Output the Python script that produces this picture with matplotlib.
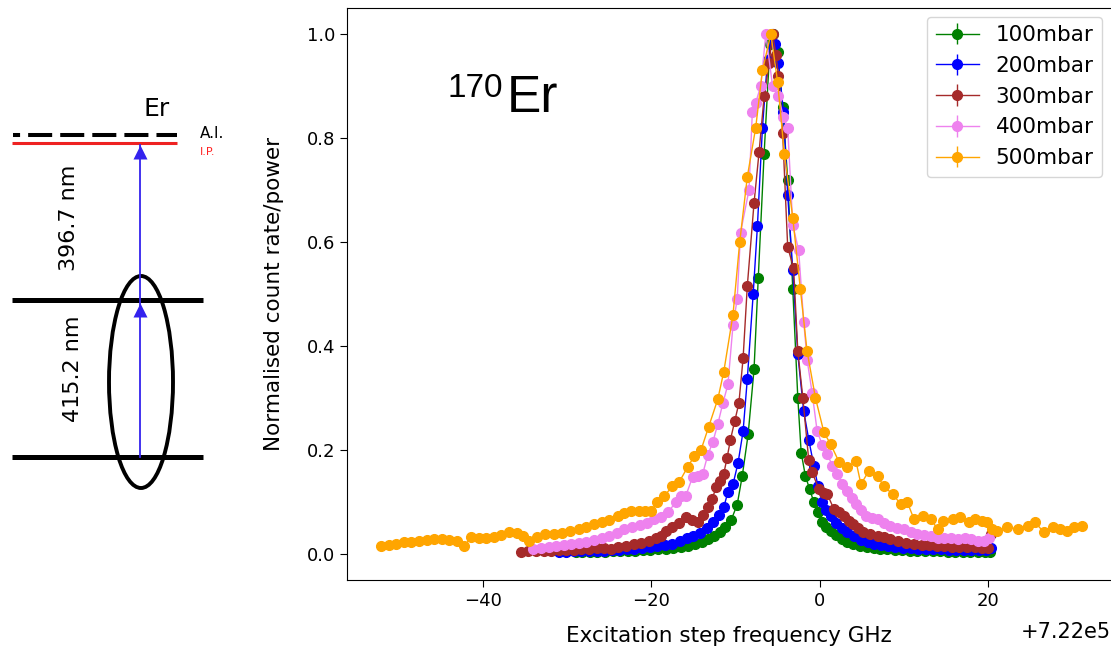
import matplotlib

matplotlib.use("Agg")
import matplotlib.pyplot as plt
import numpy as np
from matplotlib.patches import Ellipse

# frequency offset shown as +7.22e5 on the axis
OFFSET = 7.22e5
ERR = 0.003

x100 = [-29.0, -28.2, -27.3, -26.4, -25.5, -24.6, -23.7, -22.8, -21.9, -21.0,
        -20.1, -19.2, -18.3, -17.4, -16.5, -15.6, -14.8, -14.0, -13.3, -12.6,
        -11.9, -11.2, -10.5, -9.8, -9.2, -8.5, -7.8, -7.3, -6.6, -5.9,
        -5.5, -5.0, -4.4, -3.8, -3.2, -2.6, -2.2, -1.7, -1.2, -0.7,
        -0.2, 0.3, 0.8, 1.3, 1.9, 2.6, 3.3, 4.0, 4.8, 5.6,
        6.4, 7.2, 8.0, 8.9, 9.8, 10.7, 11.6, 12.5, 13.4, 14.3,
        15.2, 16.1, 17.0, 17.9, 18.8, 19.6, 20.2]
y100 = [0.003, 0.003, 0.004, 0.004, 0.004, 0.005, 0.005, 0.006, 0.006, 0.007,
        0.008, 0.009, 0.010, 0.012, 0.014, 0.016, 0.019, 0.023, 0.028, 0.034,
        0.042, 0.052, 0.066, 0.095, 0.150, 0.230, 0.355, 0.530, 0.770, 0.980,
        1.000, 0.965, 0.860, 0.720, 0.510, 0.300, 0.195, 0.150, 0.125, 0.100,
        0.080, 0.062, 0.052, 0.045, 0.036, 0.029, 0.023, 0.019, 0.016, 0.013,
        0.011, 0.010, 0.009, 0.008, 0.007, 0.006, 0.006, 0.005, 0.005, 0.005,
        0.004, 0.004, 0.004, 0.004, 0.004, 0.004, 0.004]

x200 = [-31.0, -30.1, -29.2, -28.3, -27.4, -26.5, -25.6, -24.7, -23.8, -22.9,
        -22.0, -21.1, -20.2, -19.3, -18.4, -17.5, -16.6, -15.8, -15.0, -14.2,
        -13.4, -12.7, -12.0, -11.4, -10.9, -10.3, -9.7, -9.1, -8.6, -7.9,
        -7.4, -6.8, -6.2, -5.7, -5.3, -4.9, -4.3, -3.8, -3.2, -2.6,
        -1.9, -1.3, -0.7, -0.2, 0.3, 0.8, 1.3, 1.9, 2.6, 3.3,
        4.1, 4.9, 5.7, 6.5, 7.3, 8.1, 9.0, 9.9, 10.8, 11.7,
        12.6, 13.5, 14.4, 15.3, 16.2, 17.1, 18.0, 18.9, 19.7, 20.3]
y200 = [0.004, 0.004, 0.005, 0.005, 0.005, 0.006, 0.006, 0.007, 0.008, 0.009,
        0.010, 0.011, 0.013, 0.015, 0.017, 0.020, 0.025, 0.030, 0.035, 0.040,
        0.050, 0.061, 0.075, 0.090, 0.119, 0.134, 0.175, 0.236, 0.336, 0.500,
        0.630, 0.820, 0.950, 1.000, 0.980, 0.944, 0.850, 0.690, 0.547, 0.384,
        0.275, 0.220, 0.170, 0.130, 0.100, 0.085, 0.073, 0.060, 0.050, 0.042,
        0.034, 0.027, 0.023, 0.020, 0.017, 0.015, 0.013, 0.012, 0.011, 0.010,
        0.010, 0.009, 0.009, 0.008, 0.008, 0.008, 0.008, 0.008, 0.008, 0.012]

x300 = [-35.5, -34.6, -33.7, -32.8, -31.9, -31.0, -30.1, -29.2, -28.3, -27.4,
        -26.5, -25.6, -24.8, -23.9, -23.0, -22.1, -21.2, -20.3, -19.5, -18.9,
        -18.2, -17.5, -16.7, -15.9, -15.2, -14.5, -13.9, -13.3, -12.8, -12.3,
        -11.9, -11.4, -11.0, -10.6, -10.1, -9.6, -9.1, -8.6, -7.8, -7.2,
        -6.6, -6.0, -5.6, -5.2, -4.9, -4.4, -3.8, -3.1, -2.6, -2.0,
        -1.3, -0.9, -0.1, 0.5, 0.9, 1.7, 2.3, 2.9, 3.5, 4.0,
        4.6, 5.2, 6.0, 6.9, 7.6, 8.4, 9.3, 10.2, 11.2, 12.1,
        13.0, 13.9, 14.8, 15.7, 16.6, 17.5, 18.4, 19.3, 20.0, 20.3]
y300 = [0.004, 0.005, 0.005, 0.006, 0.006, 0.007, 0.008, 0.008, 0.009, 0.010,
        0.011, 0.012, 0.010, 0.013, 0.016, 0.019, 0.021, 0.025, 0.030, 0.035,
        0.045, 0.052, 0.060, 0.071, 0.065, 0.061, 0.075, 0.090, 0.105, 0.128,
        0.140, 0.154, 0.185, 0.220, 0.255, 0.290, 0.376, 0.515, 0.675, 0.773,
        0.880, 0.944, 1.000, 0.960, 0.920, 0.810, 0.590, 0.550, 0.390, 0.300,
        0.180, 0.157, 0.125, 0.118, 0.115, 0.086, 0.080, 0.073, 0.063, 0.057,
        0.050, 0.042, 0.038, 0.035, 0.032, 0.029, 0.025, 0.022, 0.019, 0.018,
        0.017, 0.016, 0.015, 0.014, 0.014, 0.013, 0.013, 0.012, 0.012, 0.038]

x400 = [-34.0, -33.1, -32.2, -31.3, -30.4, -29.5, -28.6, -27.7, -26.8, -25.9,
        -25.0, -24.1, -23.2, -22.3, -21.4, -20.5, -19.7, -18.9, -18.0, -17.1,
        -16.5, -15.9, -15.1, -14.5, -13.9, -13.3, -12.7, -12.1, -11.5, -10.9,
        -10.3, -9.8, -9.4, -8.4, -8.0, -7.6, -7.0, -6.4, -5.6, -4.9,
        -4.3, -3.8, -3.2, -2.5, -1.9, -1.5, -0.9, -0.3, 0.3, 0.9,
        1.5, 2.1, 2.7, 3.3, 3.8, 4.3, 4.9, 5.5, 6.2, 6.9,
        7.6, 8.4, 9.2, 10.0, 10.8, 11.6, 12.4, 13.2, 14.0, 14.8,
        15.6, 16.4, 17.2, 18.0, 18.8, 19.5, 20.1]
y400 = [0.010, 0.012, 0.013, 0.015, 0.018, 0.019, 0.021, 0.024, 0.027, 0.030,
        0.035, 0.040, 0.048, 0.052, 0.056, 0.060, 0.067, 0.072, 0.080, 0.100,
        0.112, 0.112, 0.148, 0.150, 0.154, 0.190, 0.215, 0.250, 0.290, 0.326,
        0.440, 0.490, 0.618, 0.700, 0.850, 0.868, 0.900, 1.000, 0.900, 0.880,
        0.840, 0.820, 0.633, 0.584, 0.447, 0.374, 0.310, 0.236, 0.210, 0.192,
        0.170, 0.154, 0.135, 0.121, 0.108, 0.096, 0.085, 0.073, 0.070, 0.067,
        0.060, 0.054, 0.050, 0.048, 0.042, 0.038, 0.036, 0.034, 0.031, 0.030,
        0.031, 0.028, 0.030, 0.028, 0.026, 0.025, 0.030]

x500 = [-52.1, -51.2, -50.3, -49.4, -48.5, -47.6, -46.7, -45.8, -44.9, -44.0,
        -43.1, -42.2, -41.4, -40.5, -39.6, -38.7, -37.8, -36.9, -36.0, -35.2,
        -34.5, -33.6, -32.6, -31.6, -30.6, -29.6, -28.6, -27.7, -26.8, -25.9,
        -25.0, -24.0, -23.2, -22.4, -21.5, -20.7, -20.0, -19.3, -18.5, -17.5,
        -16.7, -15.7, -14.9, -14.1, -13.2, -12.1, -11.4, -10.3, -9.5, -8.6,
        -7.6, -6.8, -5.8, -5.0, -4.2, -3.2, -2.3, -1.5, -0.5, 0.5,
        1.3, 2.3, 3.3, 4.3, 4.9, 5.8, 6.9, 7.6, 8.7, 9.6,
        10.4, 11.2, 12.3, 13.2, 14.0, 14.7, 15.8, 16.7, 17.7, 18.5,
        19.3, 19.9, 20.5, 21.1, 22.3, 23.5, 24.7, 25.6, 26.6, 27.7,
        28.6, 29.4, 30.2, 31.2]
y500 = [0.016, 0.018, 0.020, 0.023, 0.023, 0.025, 0.027, 0.029, 0.029, 0.027,
        0.025, 0.016, 0.032, 0.030, 0.031, 0.033, 0.036, 0.042, 0.040, 0.035,
        0.025, 0.032, 0.038, 0.038, 0.040, 0.045, 0.048, 0.052, 0.058, 0.062,
        0.066, 0.073, 0.078, 0.083, 0.082, 0.083, 0.083, 0.100, 0.111, 0.130,
        0.138, 0.167, 0.188, 0.200, 0.244, 0.298, 0.350, 0.460, 0.600, 0.725,
        0.820, 0.930, 1.000, 0.908, 0.770, 0.647, 0.510, 0.390, 0.300, 0.234,
        0.211, 0.177, 0.167, 0.179, 0.134, 0.159, 0.150, 0.130, 0.115, 0.096,
        0.100, 0.067, 0.073, 0.067, 0.048, 0.063, 0.067, 0.071, 0.061, 0.067,
        0.063, 0.061, 0.048, 0.044, 0.052, 0.048, 0.054, 0.061, 0.042, 0.052,
        0.048, 0.044, 0.052, 0.054]

labels = ["100mbar", "200mbar", "300mbar", "400mbar", "500mbar"]
colors = ["green", "blue", "brown", "violet", "orange"]
xs_all = [x100, x200, x300, x400, x500]
ys_all = [y100, y200, y300, y400, y500]

# level scheme geometry (figure pixels, y downwards)
AI_Y, IP_Y, MID_Y, GND_Y = 135, 143, 300, 457
ARROW_X = 140

plt.rcParams["lines.scale_dashes"] = False
fig = plt.figure(figsize=(11.11, 6.48), dpi=100)

axd = fig.add_axes([0, 0, 1, 1])
axd.set_xlim(0, 1111)
axd.set_ylim(648, 0)
axd.axis("off")

axd.plot([12.5, 177], [AI_Y, AI_Y], color="black", lw=2.9,
         linestyle=(12.2, (17.3, 5.8)), solid_capstyle="butt", dash_capstyle="butt")
axd.plot([12, 177], [IP_Y, IP_Y], color="#ee2222", lw=2.2, solid_capstyle="butt")
axd.plot([12, 203], [MID_Y, MID_Y], color="black", lw=3.6, solid_capstyle="butt")
axd.plot([12, 203], [GND_Y, GND_Y], color="black", lw=3.6, solid_capstyle="butt")
axd.plot([ARROW_X, ARROW_X], [GND_Y, IP_Y + 2], color="#3322ee", lw=1.3)
axd.plot([ARROW_X], [MID_Y + 10], marker="^", ms=10, color="#3322ee", mec="none")
axd.plot([ARROW_X], [IP_Y + 9], marker="^", ms=10, color="#3322ee", mec="none")
axd.add_patch(Ellipse((141, 382), 64, 212, fill=False, ec="black", lw=2.8))

axd.text(157, 109, "Er", fontsize=18, ha="center", va="center")
axd.text(200, 134, "A.I.", fontsize=11, ha="left", va="center")
axd.text(200, 152, "I.P.", fontsize=8, ha="left", va="center", color="#ff2020")
axd.text(69, 218, "396.7 nm", fontsize=16, rotation=90, ha="center", va="center")
axd.text(73, 369, "415.2 nm", fontsize=16, rotation=90, ha="center", va="center")

ax = fig.add_axes([0.3123, 0.1049, 1.0 - 0.3123, 0.8828])
for lab, col, xs, ys in zip(labels, colors, xs_all, ys_all):
    ax.errorbar(np.array(xs) + OFFSET, ys, yerr=ERR, fmt="o-", color=col,
                ms=7, lw=1, elinewidth=1, label=lab)

ax.set_xlim(OFFSET - 56.15, OFFSET + 34.6)
ax.set_ylim(-0.05, 1.05)
ax.spines["right"].set_visible(False)
ax.tick_params(labelsize=13, length=5)
ax.set_xlabel("Excitation step frequency GHz", fontsize=15.5, labelpad=12)
ax.set_ylabel("Normalised count rate/power", fontsize=15.5, labelpad=16)
ax.legend(loc="upper right", fontsize=15.5, borderaxespad=0.4)

fig.text(448 / 1111, 1 - 97 / 648, "170", fontsize=24, family="Liberation Sans", ha="left", va="baseline")
fig.text(507 / 1111, 1 - 112 / 648, "Er", fontsize=37, family="Liberation Sans", ha="left", va="baseline")

# place the axis offset (+7.22e5) lower, level with the x label as in the original
fig.canvas.draw()
off_txt = ax.xaxis.get_major_formatter().get_offset()
ax.xaxis.get_offset_text().set_visible(False)
fig.text(0.9995, 1 - 632 / 648, off_txt, fontsize=15, ha="right", va="center")

fig.savefig("out.png", dpi=100)
